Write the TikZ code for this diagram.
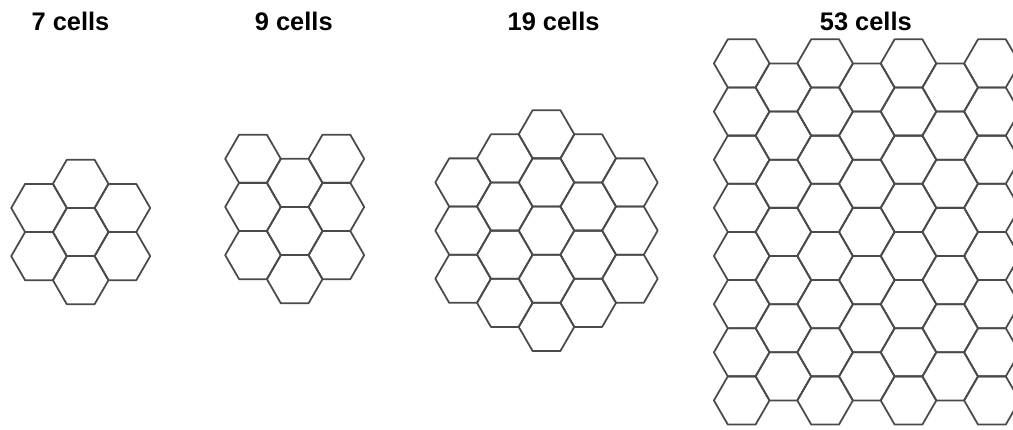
\documentclass[tikz,border=0pt]{standalone}
\usepackage{fontspec}
\setmainfont{Liberation Sans}
\usetikzlibrary{positioning}
\definecolor{edge}{HTML}{4A4A4A}
\definecolor{ink} {HTML}{000000}

\newcommand{\hexR}{27.8}
\newcommand{\rowgap}{48.15}
\newcommand{\colgap}{41.7}
% one column of #3 cells, centre x #1, first centre y #2
\newcommand{\hexcolumn}[3]{%
  \foreach \k in {1,...,#3}
    {\pic at ({#1},{#2+(\k-1)*\rowgap}) {hexcell};}}

\tikzset{
  cellline/.style={draw=edge, line width=1.5pt, line join=round},
  heading/.style={text=ink, anchor=base,
    font=\fontsize{21.7}{26}\selectfont\bfseries},
  hexcell/.pic={\draw[cellline] (0:\hexR) -- (60:\hexR) -- (120:\hexR)
    -- (180:\hexR) -- (240:\hexR) -- (300:\hexR) -- cycle;}
}

\begin{document}
\begin{tikzpicture}[x=0.03cm, y=-0.03cm]
    \useasboundingbox (0,0) rectangle (1013,430);
    \clip (0,0) rectangle (1013,430);

    % headings
    \node[heading] (title7)  at (70.5,30.5)  {7 cells};
    \node[heading] (title9)  at (293.8,30.5) {9 cells};
    \node[heading] (title19) at (553.6,30.5) {19 cells};
    \node[heading] (title53) at (865.8,30.5) {53 cells};

    % 7 cells
    \hexcolumn{39}{208}{2}
    \hexcolumn{80.7}{183.85}{3}
    \hexcolumn{122.4}{208}{2}

    % 9 cells
    \hexcolumn{253}{158.8}{3}
    \hexcolumn{294.7}{182.85}{3}
    \hexcolumn{336.4}{158.8}{3}

    % 19 cells
    \hexcolumn{463.1}{182.45}{3}
    \hexcolumn{504.8}{158.4}{4}
    \hexcolumn{546.5}{134.3}{5}
    \hexcolumn{588.2}{158.4}{4}
    \hexcolumn{629.9}{182.45}{3}

    % 53 cells, last column runs off the right edge
    \foreach \i in {0,...,6}
      {\pgfmathsetmacro{\gx}{741.7+\i*\colgap}
       \ifodd\i \hexcolumn{\gx}{87.5}{7}
       \else \hexcolumn{\gx}{63.4}{8} \fi}
  \end{tikzpicture}
\end{document}
